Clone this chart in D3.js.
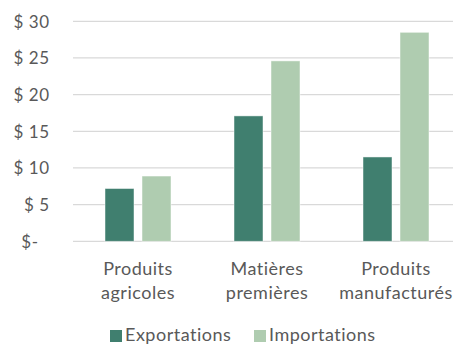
<!DOCTYPE html>
<html>
<head>
<meta charset="utf-8">
<script src="https://cdn.jsdelivr.net/npm/d3@7"></script>
<style>
  body { margin: 0; background: #fff; }
  svg { display: block; font-family: "Lato", "Open Sans", sans-serif; }
</style>
</head>
<body>
<svg id="chart" width="453" height="347"></svg>
<script>
const categories = [["Produits", "agricoles"], ["Matières", "premières"], ["Produits", "manufacturés"]];
const seriesNames = ["Exportations", "Importations"];
const exportations = [7.2, 17.1, 11.5];
const importations = [8.9, 24.6, 28.5];
const yTicks = [0, 5, 10, 15, 20, 25, 30];
const yTickLabels = ["$-", "$ 5", "$ 10", "$ 15", "$ 20", "$ 25", "$ 30"];

const COLORS = ["#407f6f", "#afccb0"];
const TEXT_COLOR = "#595959";

const svg = d3.select("#chart");

const xScale = d3.scaleBand()
    .domain(d3.range(categories.length))
    .range([73.5, 460.5]);

const yScale = d3.scaleLinear()
    .domain([0, 30])
    .range([241.3, 21.3]);

// grid lines
svg.append("g")
    .selectAll("line")
    .data(yTicks)
    .enter()
    .append("line")
        .attr("x1", 73)
        .attr("x2", 453)
        .attr("y1", d => yScale(d))
        .attr("y2", d => yScale(d))
        .attr("stroke", "#d9d9d9")
        .attr("stroke-width", 1.3);

// y axis labels
let yAxis = d3.axisLeft(yScale)
    .tickValues(yTicks)
    .tickSize(0)
    .tickPadding(0)
    .tickFormat((d, i) => yTickLabels[i]);
let yAxisG = svg.append("g")
    .attr("transform", "translate(49.5, 0)")
    .call(yAxis);
yAxisG.select(".domain").remove();
yAxisG.selectAll("text")
    .attr("fill", TEXT_COLOR)
    .attr("font-size", "17px")
    .attr("letter-spacing", "0.5px")
    .attr("font-family", "Lato, sans-serif")
    .attr("dy", "0.35em")
    .attr("dx", d => d === 0 ? -11 : 0);

// bars
const barOffset = [31.5, 68.5];
const barWidth = 29;
[exportations, importations].forEach((values, s) => {
    svg.append("g")
        .selectAll("rect")
        .data(values)
        .enter()
        .append("rect")
            .attr("x", (d, i) => xScale(i) + barOffset[s])
            .attr("width", barWidth)
            .attr("y", d => yScale(d))
            .attr("height", d => yScale(0) - yScale(d))
            .attr("fill", COLORS[s])
            .attr("stroke", "#ffffff")
            .attr("stroke-opacity", 0.6)
            .attr("stroke-width", 0.8);
});

// category labels
let catLabels = svg.append("g")
    .selectAll("text")
    .data(categories)
    .enter()
    .append("text")
        .attr("text-anchor", "middle")
        .attr("fill", TEXT_COLOR)
        .attr("font-size", "18px")
        .attr("letter-spacing", "0.5px");
catLabels.selectAll("tspan")
    .data((d, i) => d.map(line => ({ line, i })))
    .enter()
    .append("tspan")
        .attr("x", d => xScale(d.i) + xScale.bandwidth() / 2)
        .attr("y", (d, j) => 275 + j * 24)
        .text(d => d.line);

// legend
const legendX = [110, 254];
let legend = svg.append("g")
    .selectAll("g")
    .data(seriesNames)
    .enter()
    .append("g")
        .attr("transform", (d, i) => `translate(${legendX[i]}, 330)`);
legend.append("rect")
    .attr("width", 12)
    .attr("height", 12)
    .attr("fill", (d, i) => COLORS[i]);
legend.append("text")
    .attr("x", 15)
    .attr("y", 11)
    .attr("fill", TEXT_COLOR)
    .attr("font-size", "18px")
    .attr("letter-spacing", "0.5px")
    .text(d => d);
</script>
</body>
</html>
